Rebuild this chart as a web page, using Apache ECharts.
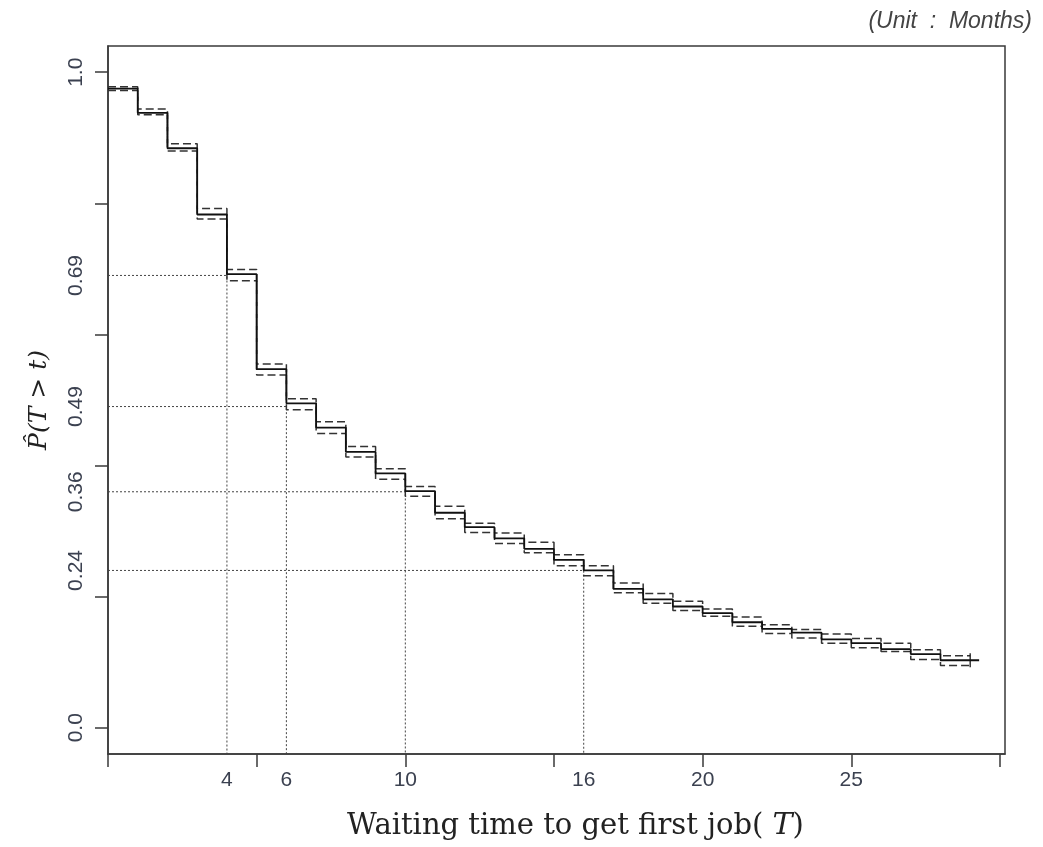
<!DOCTYPE html>
<html>
<head>
<meta charset="utf-8">
<script src="https://cdn.jsdelivr.net/npm/echarts@6/dist/echarts.min.js"></script>
<style>
html,body{margin:0;padding:0;background:#fff;}
#chart{width:1043px;height:847px;}
</style>
</head>
<body>
<div id="chart"></div>
<script>
// Kaplan-Meier step estimate: value holds on [t, t+1)
const stepTimes = [0,1,2,3,4,5,6,7,8,9,10,11,12,13,14,15,16,17,18,19,20,21,22,23,24,25,26,27,28];
const survival  = [0.975,0.938,0.884,0.783,0.692,0.547,0.495,0.458,0.421,0.388,0.361,0.328,0.306,0.289,0.273,0.256,0.240,0.212,0.196,0.185,0.175,0.161,0.151,0.145,0.135,0.129,0.120,0.1125,0.103];
const upperCI   = [0.978,0.944,0.891,0.792,0.699,0.555,0.502,0.467,0.429,0.395,0.368,0.338,0.312,0.297,0.283,0.264,0.247,0.221,0.205,0.193,0.181,0.169,0.157,0.150,0.143,0.136,0.129,0.119,0.110];
const lowerCI   = [0.972,0.935,0.880,0.776,0.682,0.538,0.485,0.449,0.413,0.379,0.353,0.319,0.298,0.281,0.267,0.247,0.232,0.206,0.190,0.179,0.170,0.155,0.144,0.137,0.129,0.122,0.1165,0.104,0.095];
const bandEnd   = 29;     // confidence band ends here
const curveEnd  = 29.3;   // solid curve ends here
const censorTime = 29;

// reference (quantile) lines
const refTimes = [4,6,10,16];
const refProbs = [0.69,0.49,0.36,0.24];

// axes
const xMin = 0, xMax = 30.17, yMin = -0.04, yMax = 1.04;
const xTickValues  = [0,5,10,15,20,25,30];
const xLabelValues = [4,6,10,16,20,25];
const yTickValues  = [0,0.2,0.4,0.6,0.8,1.0];
const yLabelValues = [0,0.24,0.36,0.49,0.69,1.0];

const stepData = (vals, endT) => {
  const d = stepTimes.map((t,i)=>[t, vals[i]]);
  d.push([endT, vals[vals.length-1]]);
  return d;
};

const labelColor = '#3b4150';
const axisColor = '#3a3a3a';

const refSeries = refTimes.map((t,i)=>({
  type:'line', silent:true, symbol:'none', z:1,
  data:[[xMin, refProbs[i]],[t, refProbs[i]],[t, yMin]],
  lineStyle:{color:'#444', width:1, type:[2,2]}
}));

const chart = echarts.init(document.getElementById('chart'));
chart.setOption({
  backgroundColor:'#fff',
  animation:false,
  title:{
    text:'(Unit  :  Months)',
    right:6, top:5,
    textStyle:{fontFamily:'Liberation Sans, Arial, sans-serif', fontStyle:'italic', fontWeight:'normal', fontSize:23, color:'#444'}
  },
  grid:{left:108, right:38, top:46, bottom:93, show:true, borderColor:axisColor, borderWidth:1.5, backgroundColor:'#fff'},
  xAxis:{
    type:'value', min:xMin, max:xMax,
    splitLine:{show:false},
    axisLine:{show:true, onZero:false, lineStyle:{color:axisColor, width:1.5}},
    axisTick:{show:true, length:13, customValues:xTickValues, lineStyle:{color:axisColor, width:1.5}},
    axisLabel:{customValues:xLabelValues, margin:16, color:labelColor, fontSize:21, fontFamily:'Liberation Sans, Arial, sans-serif'},
    name:'{n|Waiting time to get first job( }{i|T}{n|)}',
    nameLocation:'middle', nameGap:57,
    nameTextStyle:{
      padding:[0,0,0,38],
      rich:{
        n:{fontFamily:'DejaVu Serif, serif', fontSize:29, color:'#222'},
        i:{fontFamily:'DejaVu Serif, serif', fontStyle:'italic', fontSize:30, color:'#222'}
      }
    }
  },
  yAxis:{
    type:'value', min:yMin, max:yMax,
    splitLine:{show:false},
    axisLine:{show:true, onZero:false, lineStyle:{color:axisColor, width:1.5}},
    axisTick:{show:true, length:13, customValues:yTickValues, lineStyle:{color:axisColor, width:1.5}},
    axisLabel:{
      customValues:yLabelValues, rotate:90, margin:21, color:labelColor, fontSize:21,
      fontFamily:'Liberation Sans, Arial, sans-serif',
      formatter:v=> (v===0 || v===1) ? v.toFixed(1) : v.toFixed(2)
    },
    name:'P\u0302(T > t)',
    nameLocation:'middle', nameGap:56, nameRotate:90,
    nameTextStyle:{fontFamily:'DejaVu Serif, serif', fontStyle:'italic', fontSize:25, color:'#222'}
  },
  series:[
    ...refSeries,
    {type:'line', step:'end', symbol:'none', silent:true, z:2, data:stepData(upperCI, bandEnd),
     lineStyle:{color:'#333', width:1.5, type:[8,4]}},
    {type:'line', step:'end', symbol:'none', silent:true, z:2, data:stepData(lowerCI, bandEnd),
     lineStyle:{color:'#333', width:1.5, type:[8,4]}},
    {type:'line', step:'end', symbol:'none', silent:true, z:3, data:stepData(survival, curveEnd),
     lineStyle:{color:'#111', width:1.8}},
    {type:'scatter', silent:true, z:4, symbol:'rect', symbolSize:[1.6,14],
     data:[[censorTime, survival[survival.length-1]]], itemStyle:{color:'#111'}}
  ]
});
</script>
</body>
</html>
